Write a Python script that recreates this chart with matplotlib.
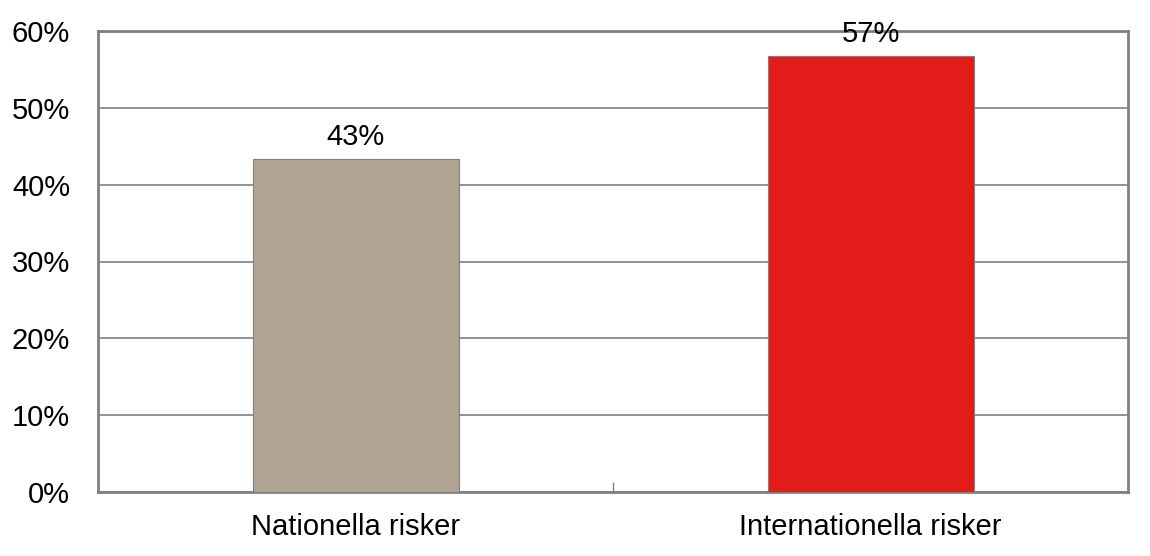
import matplotlib
matplotlib.use('Agg')
import matplotlib.pyplot as plt
from matplotlib.ticker import FuncFormatter

# data
categories = ['Nationella risker', 'Internationella risker']
shares = [43.3, 56.7]
bar_labels = ['43%', '57%']
bar_colors = ['#B0A392', '#E21C18']

plt.rcParams['font.family'] = ['Liberation Sans', 'DejaVu Sans']

fig = plt.figure(figsize=(11.5, 5.56), dpi=100)
ax = fig.add_axes([98 / 1150, 64 / 556, 1030 / 1150, 461 / 556])

x = range(len(categories))
bars = ax.bar(x, shares, width=0.4, color=bar_colors,
              edgecolor='#808080', linewidth=0.8, zorder=3)

for b, lab in zip(bars, bar_labels):
    ax.annotate(lab, (b.get_x() + b.get_width() / 2, b.get_height()),
                xytext=(0, 6), textcoords='offset points',
                ha='center', va='bottom', fontsize=21, color='black', zorder=4)

ax.set_xlim(-0.5, 1.5)
ax.set_ylim(0, 60)
ax.set_yticks(range(0, 61, 10))
ax.yaxis.set_major_formatter(FuncFormatter(lambda v, p: f'{v:.0f}%'))
ax.yaxis.grid(True, color='#808080', linewidth=1.2, zorder=0)
ax.set_axisbelow(True)

ax.set_xticks(list(x))
ax.set_xticklabels(categories)
ax.set_xticks([0.5], minor=True)
ax.tick_params(axis='x', which='major', length=0, pad=15, labelsize=21)
ax.tick_params(axis='x', which='minor', length=7, direction='in',
               color='#808080', width=1)
ax.tick_params(axis='y', length=0, pad=20, labelsize=21)

for s in ax.spines.values():
    s.set_color('#808080')
    s.set_linewidth(2)

fig.savefig('out.png', dpi=100)
